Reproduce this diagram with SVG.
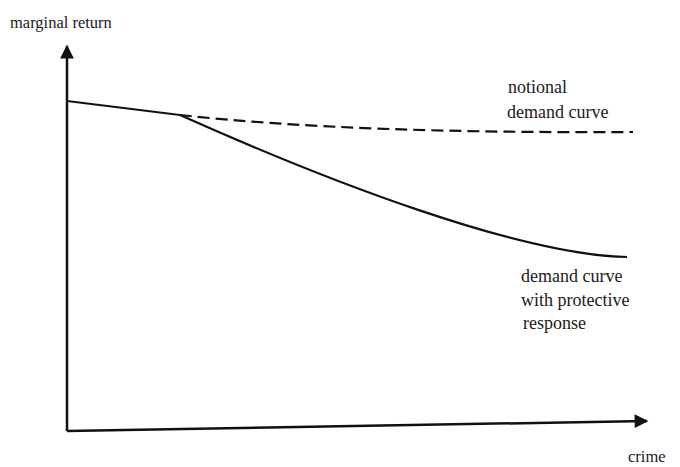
<svg xmlns="http://www.w3.org/2000/svg" width="680" height="467" viewBox="0 0 680 467">
<style>
text{font-family:"Liberation Serif","Times New Roman",serif;font-size:16.5px;fill:#1a1a1a}
.big{font-size:18px}
.ax{stroke:#111;stroke-width:2.5;fill:none}
.c{stroke:#111;stroke-width:2.2;fill:none}
</style>
<defs>
<marker id="ah" viewBox="0 0 10 10" refX="9" refY="5" markerWidth="6" markerHeight="5.5" orient="auto" markerUnits="strokeWidth"><path d="M0,0 L10,5 L0,10 z" fill="#111"/></marker>
</defs>
<rect width="680" height="467" fill="#fff"/>
<g id="connectors">
<path id="y-axis" class="ax" d="M67,431 L67,46" marker-end="url(#ah)"/>
<path id="x-axis" class="ax" d="M67,431 L647,421" marker-end="url(#ah)"/>
<path id="common" class="c" d="M67,101 L180,115"/>
<path id="notional" class="c" d="M180,115 C300,128 450,133 633,132" stroke-dasharray="12,6"/>
<path id="protective" class="c" d="M180,115 C330,182 520,255 627,257"/>
</g>
<g id="labels">
<text x="10" y="28">marginal return</text>
<text class="big" x="508" y="93">notional</text>
<text class="big" x="507" y="118">demand curve</text>
<text class="big" x="521" y="282">demand curve</text>
<text class="big" x="521" y="306">with protective</text>
<text class="big" x="523" y="329">response</text>
<text x="628" y="462">crime</text>
</g>
</svg>
